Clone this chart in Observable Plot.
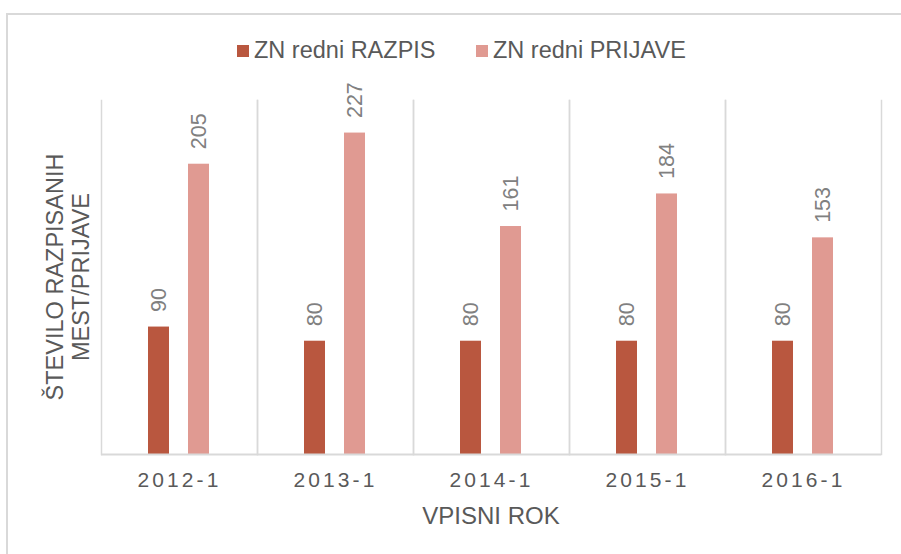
<!DOCTYPE html>
<html><head><meta charset="utf-8">
<script src="https://cdn.jsdelivr.net/npm/d3@7"></script>
<script src="https://cdn.jsdelivr.net/npm/@observablehq/plot@0.6"></script>
<style>
body{margin:0;background:#fff;font-family:"Liberation Sans",Arial,sans-serif;}
#wrap{position:relative;width:901px;height:554px;overflow:hidden;}
#border{position:absolute;left:6px;top:13px;width:1000px;height:1000px;border:2px solid #d9d9d9;box-sizing:border-box;}
#chart{position:absolute;left:0;top:0;}
svg [aria-label^="fx-axis"] text{font-size:21px;letter-spacing:3.1px;fill:#595959;}
</style>
</head><body>
<div id="wrap"><div id="border"></div><div id="chart"></div></div>
<script>
const years = ["2012-1","2013-1","2014-1","2015-1","2016-1"];
const series = ["ZN redni RAZPIS","ZN redni PRIJAVE"];
const razpis = [90,80,80,80,80];
const prijave = [205,227,161,184,153];
const colors = ["#B9573F","#E09A92"];
const yTitle = ["ŠTEVILO RAZPISANIH","MEST/PRIJAVE"];
const xTitle = "VPISNI ROK";

const data = years.flatMap((y,i)=>[
  {year:y, series:series[0], value:razpis[i]},
  {year:y, series:series[1], value:prijave[i]}
]);

const W=901, H=554, mL=99, mR=18, mT=100, mB=100;
const chart = Plot.plot({
  width:W, height:H,
  marginLeft:mL, marginRight:mR, marginTop:mT, marginBottom:mB,
  style:{fontFamily:"Liberation Sans, Arial, sans-serif", background:"transparent", overflow:"visible"},
  fx:{domain:years, padding:0, axis:"bottom", tickSize:0, tickPadding:18, label:null},
  x:{domain:series, axis:null, paddingInner:0.47, paddingOuter:1.17},
  y:{domain:[0,250], axis:null},
  color:{domain:series, range:colors},
  marks:[
    Plot.frame({anchor:"left", stroke:"#d9d9d9", strokeWidth:1.5}),
    Plot.frame({anchor:"right", stroke:"#d9d9d9", strokeWidth:1.5}),
    Plot.barY(data,{fx:"year", x:"series", y:"value", fill:"series"}),
    Plot.ruleY([0],{stroke:"#d9d9d9", strokeWidth:2}),
    Plot.text(data,{fx:"year", x:"series", y:"value", text:d=>String(d.value), rotate:-90, textAnchor:"start", dy:-15, fill:"#808080", fontSize:21.5})
  ]
});
document.getElementById("chart").appendChild(chart);

const svg = d3.select(chart);
const cx = (mL + (W-mR))/2, cy = (mT + (H-mB))/2;
svg.append("text").attr("x",cx).attr("y",524).attr("text-anchor","middle")
  .attr("font-size",24).attr("fill","#595959").text(xTitle);
[63,89].forEach((bx,i)=>{
  svg.append("text").attr("transform",`translate(${bx},${cy}) rotate(-90)`)
    .attr("text-anchor","middle").attr("font-size",23.5)
    .attr("fill","#595959").text(yTitle[i]);
});
const col = chart.scale("color");
const legX = [237,476];
series.forEach((s,i)=>{
  svg.append("rect").attr("x",legX[i]).attr("y",45).attr("width",12).attr("height",12).attr("fill",col.apply(s));
  svg.append("text").attr("x",legX[i]+17).attr("y",57.5).attr("text-anchor","start").attr("font-size",23.5)
    .attr("fill","#595959").text(s);
});
</script>
</body></html>
